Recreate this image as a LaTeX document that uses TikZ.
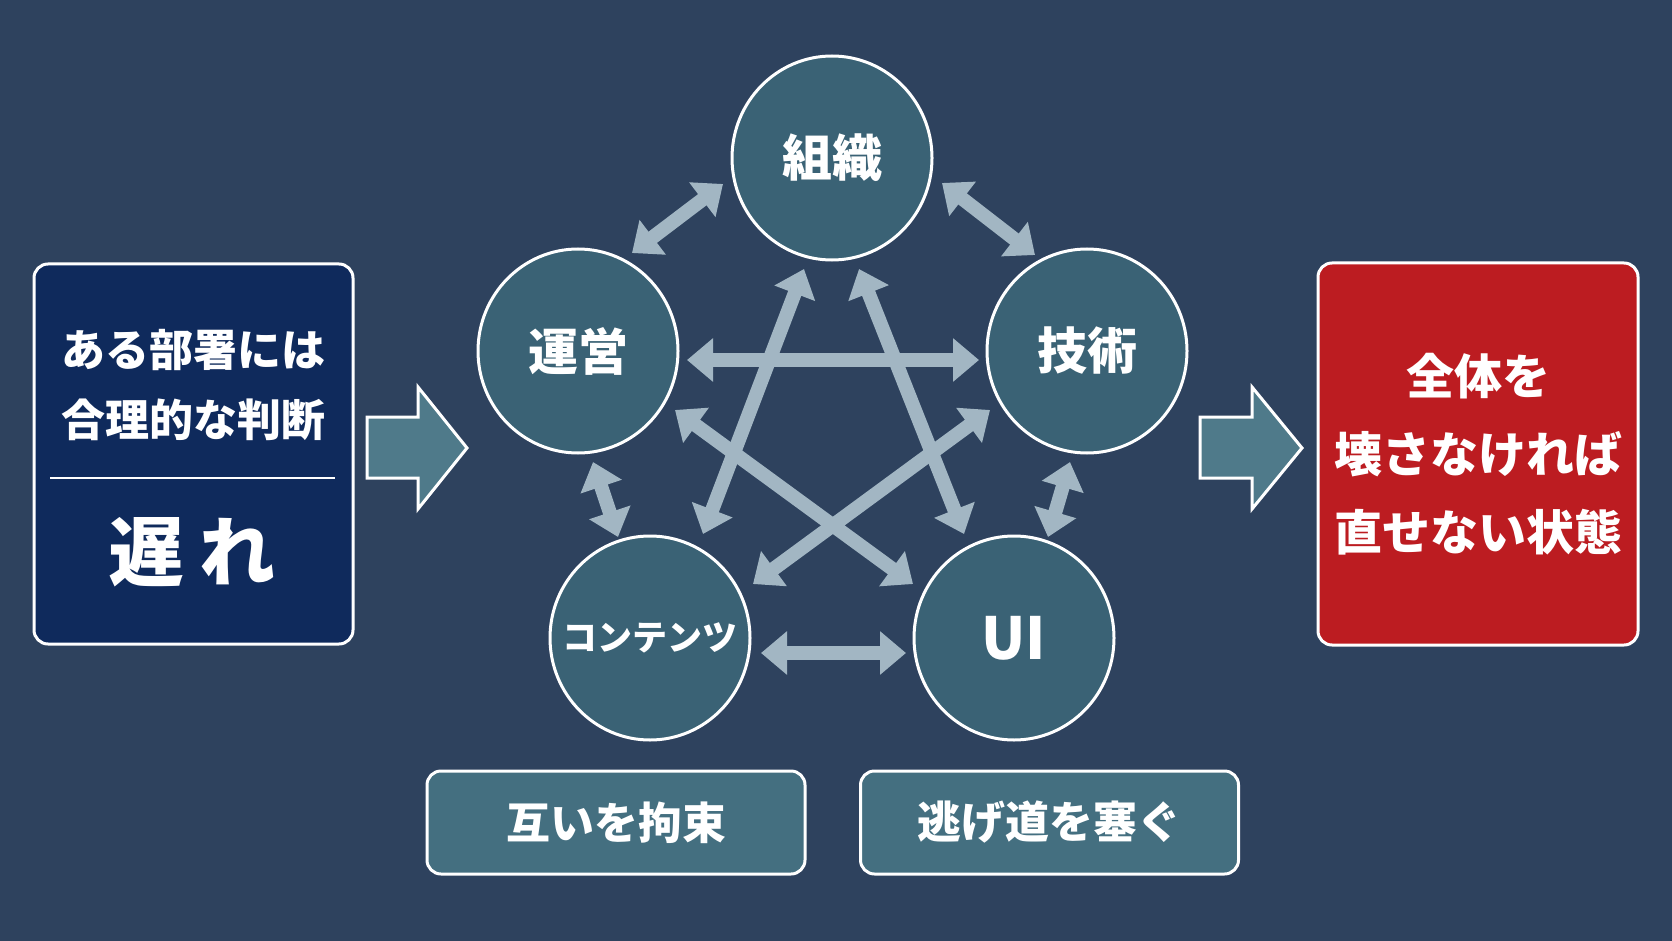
\documentclass[tikz,border=0pt]{standalone}
\usepackage{fontspec}
\newfontfamily\jp{Noto Sans CJK JP}[BoldFont={Noto Sans CJK JP Black}]
\usetikzlibrary{arrows.meta,shapes.geometric,calc}
\definecolor{bgc}{HTML}{2E425E}
\definecolor{circc}{HTML}{3A6275}
\definecolor{boxc}{HTML}{446F80}
\definecolor{navyc}{HTML}{0F2A5C}
\definecolor{redc}{HTML}{BC1C21}
\definecolor{arrc}{HTML}{A2B6C3}
\definecolor{bigarr}{HTML}{4F7A8A}
\begin{document}
\begin{tikzpicture}[x=1pt,y=-1pt,
  hub/.style={ellipse,draw=white,line width=3pt,fill=circc,minimum width=200pt,minimum height=204pt,inner sep=0pt,text=white,font=\jp\bfseries\fontsize{50}{50}\selectfont},
  panel/.style={draw=white,line width=3pt,rounded corners=14pt,inner sep=0pt},
  tag/.style={panel,fill=boxc,minimum width=378pt,minimum height=103pt,text=white,font=\jp\bfseries\fontsize{44}{44}\selectfont},
  link/.style={draw=arrc,line width=14pt,>={Triangle[width=42pt,length=26pt]},<->},
  txt/.style={text=white,align=center,inner sep=0pt},
  blk/.style={fill=bigarr,draw=white,line width=3pt,line join=miter}
]
\useasboundingbox (0,0) rectangle (1672,941);
\fill[bgc] (0,0) rectangle (1672,941);

% left panel
\node[panel,fill=navyc,minimum width=319pt,minimum height=380pt] (lb) at (193.5,454) {};
\draw[white,line width=2pt] (50,478) -- (335,478);
\node[txt,font=\jp\bfseries\fontsize{44}{70}\selectfont] (lbt) at (193,385) {ある部署には\\合理的な判断};
\node[txt,font=\jp\bfseries\fontsize{76}{76}\selectfont] (late) at (192,552) {遅\hspace{15pt}れ};

% right panel
\node[panel,fill=redc,minimum width=320pt,minimum height=382pt] (rb) at (1478,454) {};
\node[txt,font=\jp\bfseries\fontsize{48}{78}\selectfont] (rbt) at (1478,454) {全体を\\壊さなければ\\直せない状態};

% block arrows
\draw[blk] (367,417) -- (418,417) -- (418,387) -- (467,448) -- (418,509) -- (418,478) -- (367,478) -- cycle;
\draw[blk] (1200,417) -- (1252,417) -- (1252,387) -- (1302,448) -- (1252,509) -- (1252,478) -- (1200,478) -- cycle;

% hubs
\node[hub] (zo) at (832,158) {組織};
\node[hub] (un) at (578,351) {運営};
\node[hub] (gi) at (1087,351) {技術};
\node[hub] (co) at (650,638) {};
\node[txt,font=\jp\bfseries\fontsize{35}{35}\selectfont] (cot) at (co) {コンテンツ};
\node[hub,font=\jp\bfseries\fontsize{58}{58}\selectfont] (ui) at (1014,638) {UI};

% links
\draw[link] ($(un)+(54,-98)$) -- ($(zo)+(-109,26)$);
\draw[link] ($(zo)+(110,25)$) -- ($(gi)+(-52,-96)$);
\draw[link] ($(un)+(109,9)$) -- ($(gi)+(-108,9)$);
\draw[link] ($(zo)+(-28,111)$) -- ($(co)+(53,-104)$);
\draw[link] ($(zo)+(27,111)$) -- ($(ui)+(-50,-104)$);
\draw[link] ($(un)+(97,59)$) -- ($(ui)+(-101,-54)$);
\draw[link] ($(gi)+(-97,59)$) -- ($(co)+(103,-54)$);
\draw[link] ($(un)+(15,111)$) -- ($(co)+(-32,-101)$);
\draw[link] ($(gi)+(-17,111)$) -- ($(ui)+(34,-101)$);
\draw[link] ($(co)+(111,15)$) -- ($(ui)+(-108,15)$);

% tags
\node[tag] (t1) at (616,822.5) {互いを拘束};
\node[tag] (t2) at (1049.5,822.5) {逃げ道を塞ぐ};
\end{tikzpicture}
\end{document}
